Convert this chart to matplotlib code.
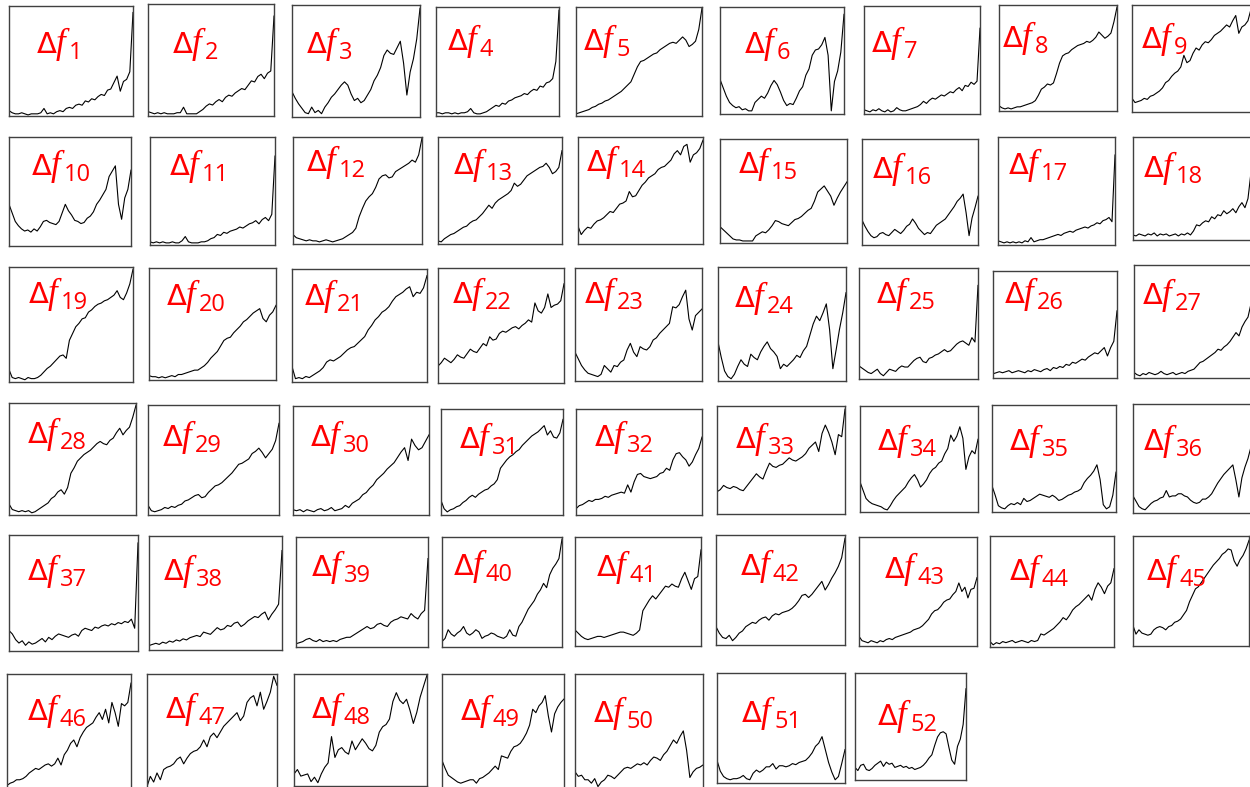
import matplotlib
matplotlib.use("Agg")
import matplotlib.pyplot as plt
import numpy as np

# trace values, percent of panel height (evenly spaced in x)
DF1 = [4, 2, 1, 1, 2, 1, 0, 1, 1, 1, 2, 6, 1, 2, 1, 3, 4, 3, 6, 7, 6, 9, 10, 9, 13, 12, 15, 14, 17, 19, 18, 23, 24, 30, 36, 22, 31, 33, 40, 95]
DF2 = [3, 2, 1, 2, 1, 2, 1, 1, 1, 2, 2, 7, 1, 1, 1, 1, 3, 5, 8, 10, 9, 12, 14, 12, 16, 18, 17, 20, 22, 24, 23, 27, 31, 30, 35, 37, 33, 38, 40, 90]
DF3 = [22, 16, 11, 7, 3, 2, 8, 3, 5, 2, 8, 12, 17, 20, 24, 28, 31, 28, 20, 14, 16, 12, 14, 19, 24, 32, 37, 44, 55, 60, 57, 56, 62, 68, 48, 19, 40, 52, 70, 98]
DF4 = [2, 2, 1, 2, 2, 1, 2, 1, 2, 2, 3, 6, 2, 1, 1, 2, 3, 5, 7, 9, 8, 11, 10, 13, 14, 16, 17, 18, 20, 19, 22, 24, 23, 27, 26, 30, 31, 34, 50, 98]
DF5 = [1, 2, 3, 4, 5, 7, 8, 10, 11, 13, 14, 16, 18, 20, 22, 25, 28, 31, 38, 45, 50, 51, 53, 55, 57, 58, 61, 63, 65, 67, 68, 67, 70, 73, 70, 64, 66, 69, 80, 100]
DF6 = [32, 24, 16, 10, 7, 5, 6, 3, 4, 2, 2, 10, 13, 16, 14, 19, 26, 31, 27, 20, 12, 7, 9, 8, 14, 21, 25, 36, 42, 55, 60, 61, 65, 72, 55, 2, 30, 40, 58, 94]
DF7 = [3, 2, 1, 3, 2, 4, 2, 1, 3, 1, 2, 5, 3, 2, 2, 3, 4, 5, 6, 8, 11, 9, 12, 14, 13, 15, 17, 16, 18, 20, 19, 22, 24, 21, 26, 25, 29, 27, 30, 80]
DF8 = [4, 2, 1, 2, 1, 2, 3, 3, 4, 5, 6, 7, 9, 14, 20, 22, 25, 24, 26, 35, 45, 52, 54, 55, 58, 60, 62, 63, 64, 66, 65, 67, 70, 75, 72, 69, 71, 74, 85, 99]
DF9 = [12, 8, 9, 10, 12, 11, 14, 15, 17, 19, 22, 27, 29, 33, 36, 38, 42, 53, 46, 48, 55, 60, 58, 63, 66, 65, 68, 72, 74, 76, 79, 82, 80, 86, 91, 74, 80, 82, 86, 97]
DF10 = [38, 30, 22, 18, 15, 13, 14, 12, 15, 13, 17, 22, 23, 21, 20, 19, 22, 30, 38, 32, 28, 23, 22, 20, 21, 25, 27, 31, 38, 42, 47, 52, 64, 69, 74, 38, 24, 44, 52, 70]
DF11 = [2, 1, 2, 1, 2, 1, 1, 2, 1, 1, 3, 7, 2, 1, 1, 1, 2, 2, 3, 5, 6, 9, 8, 11, 10, 12, 13, 14, 16, 15, 17, 19, 20, 22, 19, 23, 25, 22, 28, 83]
DF12 = [8, 5, 4, 3, 2, 3, 2, 2, 1, 2, 3, 2, 1, 2, 3, 4, 6, 8, 10, 14, 25, 33, 40, 44, 47, 53, 61, 64, 65, 62, 63, 68, 70, 72, 74, 76, 79, 77, 84, 100]
DF13 = [2, 1, 4, 6, 8, 9, 11, 13, 15, 16, 19, 21, 22, 25, 28, 32, 36, 33, 38, 41, 43, 45, 47, 50, 57, 54, 56, 60, 64, 66, 68, 70, 72, 73, 76, 72, 66, 68, 72, 88]
DF14 = [16, 8, 12, 15, 14, 18, 21, 22, 24, 27, 30, 29, 33, 37, 38, 40, 49, 44, 45, 50, 55, 58, 62, 64, 66, 70, 72, 73, 76, 79, 85, 88, 84, 92, 94, 77, 84, 86, 90, 98]
DF15 = [15, 12, 9, 6, 3, 2, 2, 1, 1, 1, 1, 6, 8, 10, 9, 12, 16, 21, 20, 18, 17, 16, 19, 22, 23, 25, 28, 31, 33, 40, 49, 52, 55, 50, 45, 36, 43, 49, 54, 59]
DF16 = [23, 17, 12, 8, 6, 7, 10, 11, 9, 8, 11, 14, 12, 10, 13, 17, 19, 24, 20, 15, 12, 9, 11, 10, 14, 18, 20, 22, 24, 28, 32, 36, 41, 44, 48, 30, 8, 25, 35, 46]
DF17 = [3, 2, 1, 2, 1, 2, 1, 2, 1, 3, 2, 6, 2, 3, 4, 4, 5, 6, 7, 8, 9, 8, 10, 11, 12, 11, 13, 14, 15, 16, 15, 17, 18, 20, 19, 22, 23, 25, 21, 84]
DF18 = [4, 3, 5, 4, 3, 5, 4, 6, 3, 5, 4, 5, 3, 4, 5, 3, 5, 4, 6, 4, 8, 14, 13, 16, 18, 17, 22, 20, 24, 23, 28, 25, 27, 30, 26, 32, 36, 31, 40, 66]
DF19 = [10, 3, 2, 3, 2, 1, 3, 2, 2, 3, 5, 8, 11, 13, 16, 19, 22, 23, 20, 36, 42, 48, 51, 55, 56, 61, 63, 66, 68, 69, 71, 72, 74, 76, 80, 74, 72, 78, 86, 99]
DF20 = [3, 2, 2, 1, 2, 1, 2, 3, 2, 4, 4, 5, 6, 7, 8, 8, 10, 12, 15, 19, 22, 25, 30, 35, 37, 38, 42, 45, 48, 52, 54, 57, 60, 62, 64, 55, 52, 58, 61, 67]
DF21 = [13, 2, 3, 2, 4, 3, 5, 7, 9, 12, 17, 19, 18, 20, 22, 25, 28, 30, 31, 34, 37, 40, 46, 50, 55, 58, 62, 64, 67, 72, 76, 78, 80, 83, 85, 76, 80, 79, 84, 95]
DF22 = [14, 17, 21, 19, 17, 20, 24, 22, 21, 25, 29, 27, 26, 30, 34, 32, 40, 37, 38, 43, 45, 44, 46, 48, 49, 47, 50, 52, 55, 53, 70, 63, 61, 66, 78, 66, 68, 69, 72, 87]
DF23 = [25, 19, 13, 9, 6, 5, 4, 3, 5, 13, 10, 7, 13, 12, 16, 18, 27, 33, 25, 21, 30, 28, 27, 30, 36, 38, 42, 45, 48, 51, 66, 65, 68, 75, 81, 55, 45, 58, 61, 64]
DF24 = [34, 20, 8, 3, 1, 5, 12, 18, 14, 12, 23, 20, 18, 25, 30, 34, 28, 25, 21, 10, 14, 12, 15, 18, 22, 20, 26, 30, 40, 50, 57, 53, 60, 68, 45, 10, 27, 45, 60, 78]
DF25 = [11, 9, 7, 5, 4, 6, 8, 4, 2, 5, 8, 7, 6, 9, 11, 10, 10, 13, 16, 18, 19, 15, 14, 18, 19, 21, 22, 24, 26, 24, 25, 28, 31, 33, 34, 32, 30, 37, 33, 85]
DF26 = [3, 4, 5, 4, 5, 6, 4, 5, 6, 5, 4, 6, 5, 7, 6, 5, 7, 8, 6, 9, 8, 10, 9, 12, 11, 14, 13, 15, 17, 16, 19, 21, 23, 22, 25, 28, 20, 28, 34, 63]
DF27 = [4, 2, 1, 3, 2, 4, 3, 2, 3, 5, 3, 2, 3, 4, 2, 3, 4, 3, 5, 6, 7, 10, 13, 14, 16, 18, 20, 22, 25, 24, 27, 29, 32, 36, 40, 37, 45, 50, 54, 66]
DF28 = [9, 4, 3, 2, 3, 2, 3, 1, 2, 4, 6, 8, 10, 14, 16, 20, 22, 18, 24, 37, 42, 48, 51, 54, 56, 58, 61, 64, 66, 64, 63, 67, 69, 74, 78, 72, 76, 79, 88, 99]
DF29 = [8, 3, 2, 3, 4, 6, 5, 7, 6, 8, 9, 12, 13, 15, 17, 18, 15, 16, 20, 23, 26, 27, 29, 32, 35, 38, 42, 46, 47, 49, 51, 56, 58, 61, 57, 52, 56, 60, 68, 84]
DF30 = [4, 3, 4, 2, 4, 3, 2, 4, 5, 3, 4, 6, 3, 4, 5, 8, 6, 10, 12, 14, 18, 20, 24, 27, 32, 35, 38, 42, 45, 48, 53, 58, 62, 50, 70, 64, 60, 62, 68, 74]
DF31 = [13, 5, 2, 4, 5, 7, 8, 11, 13, 16, 18, 16, 19, 21, 23, 24, 27, 29, 33, 44, 48, 52, 55, 57, 60, 62, 66, 69, 72, 75, 77, 79, 82, 85, 76, 80, 74, 73, 78, 91]
DF32 = [5, 8, 9, 11, 13, 12, 14, 14, 15, 17, 16, 18, 19, 20, 21, 20, 28, 21, 31, 38, 39, 36, 35, 34, 35, 36, 39, 40, 44, 42, 52, 58, 59, 55, 52, 46, 50, 57, 63, 74]
DF33 = [20, 22, 26, 24, 23, 25, 24, 22, 21, 25, 29, 33, 37, 34, 32, 40, 47, 44, 43, 45, 46, 49, 52, 50, 49, 51, 53, 56, 61, 64, 67, 58, 75, 83, 76, 67, 55, 74, 72, 98]
DF34 = [28, 20, 12, 9, 7, 6, 5, 4, 2, 1, 5, 10, 14, 17, 20, 23, 28, 32, 35, 30, 23, 26, 30, 36, 40, 42, 46, 48, 55, 60, 73, 67, 72, 81, 70, 40, 52, 58, 55, 69]
DF35 = [24, 15, 5, 3, 2, 5, 7, 6, 8, 6, 12, 9, 10, 12, 14, 16, 15, 14, 13, 15, 13, 10, 11, 13, 15, 16, 18, 19, 21, 27, 31, 34, 38, 44, 30, 6, 2, 4, 15, 37]
DF36 = [15, 10, 5, 3, 2, 5, 8, 10, 11, 13, 14, 20, 14, 15, 15, 17, 17, 15, 14, 11, 9, 8, 9, 12, 12, 14, 17, 22, 27, 31, 35, 38, 41, 44, 30, 14, 32, 42, 50, 61]
DF37 = [17, 14, 9, 6, 8, 4, 7, 5, 6, 8, 10, 7, 11, 9, 12, 14, 13, 12, 11, 13, 14, 12, 17, 19, 18, 17, 20, 19, 21, 22, 21, 23, 22, 24, 23, 25, 24, 27, 19, 94]
DF38 = [3, 4, 5, 4, 6, 5, 7, 6, 8, 7, 9, 8, 10, 11, 12, 11, 15, 14, 13, 16, 19, 17, 18, 21, 20, 23, 24, 20, 22, 25, 27, 29, 28, 31, 33, 26, 31, 35, 40, 88]
DF39 = [2, 3, 4, 6, 7, 5, 4, 6, 4, 5, 4, 5, 4, 6, 7, 8, 8, 10, 12, 14, 16, 18, 16, 17, 20, 21, 19, 18, 22, 24, 25, 27, 26, 25, 30, 27, 25, 30, 33, 81]
DF40 = [4, 7, 15, 11, 9, 12, 14, 18, 12, 10, 12, 15, 13, 7, 9, 10, 12, 11, 9, 8, 7, 9, 15, 10, 9, 18, 22, 28, 34, 38, 42, 48, 52, 58, 54, 66, 72, 76, 81, 99]
DF41 = [14, 11, 8, 6, 5, 6, 7, 8, 8, 7, 8, 9, 10, 11, 12, 12, 11, 10, 9, 11, 14, 32, 37, 42, 46, 43, 47, 51, 55, 54, 57, 55, 54, 62, 68, 60, 52, 62, 64, 89]
DF42 = [16, 10, 6, 5, 8, 3, 6, 10, 12, 16, 18, 20, 19, 22, 24, 25, 22, 26, 28, 27, 29, 30, 31, 33, 36, 40, 45, 46, 43, 46, 50, 54, 58, 50, 55, 61, 66, 72, 80, 98]
DF43 = [8, 4, 3, 2, 4, 3, 2, 4, 3, 5, 6, 5, 7, 8, 9, 10, 11, 12, 14, 15, 16, 18, 21, 24, 29, 32, 33, 36, 40, 42, 43, 47, 50, 58, 50, 54, 44, 52, 53, 63]
DF44 = [4, 1, 3, 2, 4, 3, 4, 5, 3, 4, 5, 4, 3, 5, 4, 5, 11, 10, 12, 14, 16, 19, 22, 26, 24, 28, 33, 36, 38, 41, 44, 47, 42, 52, 58, 54, 48, 55, 58, 71]
DF45 = [18, 10, 14, 11, 10, 9, 10, 14, 16, 17, 16, 14, 17, 18, 21, 22, 24, 28, 32, 40, 46, 52, 54, 58, 62, 66, 70, 74, 77, 80, 84, 86, 89, 88, 78, 73, 79, 83, 89, 97]
DF46 = [3, 5, 6, 8, 8, 9, 11, 14, 16, 18, 17, 19, 21, 22, 20, 22, 27, 21, 30, 34, 40, 43, 37, 45, 50, 54, 56, 58, 63, 67, 61, 70, 58, 76, 67, 55, 75, 73, 76, 93]
DF47 = [2, 11, 6, 14, 8, 17, 19, 20, 22, 26, 28, 22, 27, 31, 33, 34, 37, 43, 37, 46, 49, 45, 50, 55, 58, 61, 64, 67, 60, 64, 76, 80, 82, 73, 85, 70, 77, 85, 99, 91]
DF48 = [10, 14, 8, 9, 10, 3, 7, 2, 10, 16, 20, 44, 25, 32, 34, 30, 28, 40, 32, 37, 42, 38, 33, 31, 36, 48, 53, 55, 60, 76, 84, 77, 74, 78, 68, 56, 66, 80, 90, 100]
DF49 = [25, 18, 12, 10, 8, 6, 5, 6, 7, 8, 8, 5, 9, 10, 12, 14, 17, 20, 17, 29, 28, 27, 33, 37, 38, 40, 44, 49, 56, 70, 67, 73, 76, 82, 64, 50, 66, 72, 76, 79]
DF50 = [15, 11, 12, 8, 8, 5, 9, 2, 6, 8, 12, 11, 9, 12, 15, 18, 19, 18, 20, 22, 21, 23, 21, 25, 28, 27, 25, 30, 33, 38, 43, 40, 46, 51, 34, 10, 15, 18, 19, 21]
DF51 = [20, 10, 5, 3, 2, 3, 3, 4, 6, 3, 2, 8, 11, 9, 11, 14, 14, 17, 12, 15, 15, 14, 15, 17, 16, 18, 19, 20, 23, 27, 33, 36, 42, 30, 18, 9, 2, 5, 17, 30]
DF52 = [11, 8, 13, 14, 9, 8, 10, 13, 15, 17, 12, 16, 14, 15, 11, 12, 13, 11, 12, 10, 11, 9, 10, 11, 13, 16, 20, 23, 32, 40, 44, 45, 43, 30, 18, 14, 31, 38, 52, 86]

TRACES = [DF1, DF2, DF3, DF4, DF5, DF6, DF7, DF8, DF9, DF10, DF11, DF12, DF13,
          DF14, DF15, DF16, DF17, DF18, DF19, DF20, DF21, DF22, DF23, DF24, DF25, DF26,
          DF27, DF28, DF29, DF30, DF31, DF32, DF33, DF34, DF35, DF36, DF37, DF38, DF39,
          DF40, DF41, DF42, DF43, DF44, DF45, DF46, DF47, DF48, DF49, DF50, DF51, DF52]
SUBSCRIPTS = [str(i) for i in range(1, len(TRACES) + 1)]

# panel boxes in pixels: left, top, right, bottom
BOXES = [
    (9, 6, 133, 116), (148, 4, 274, 116), (292, 5, 420, 117), (436, 7, 559, 116),
    (576, 7, 702, 116), (720, 7, 844, 114), (864, 6, 980, 114), (999, 5, 1117, 111),
    (1132, 5, 1251, 112),
    (9, 137, 131, 246), (150, 137, 275, 245), (293, 137, 422, 244), (438, 137, 562, 244),
    (578, 137, 703, 244), (720, 139, 847, 243), (862, 139, 978, 245), (998, 137, 1115, 245),
    (1133, 137, 1251, 240),
    (9, 267, 133, 382), (149, 268, 276, 380), (292, 269, 427, 382), (438, 268, 564, 383),
    (575, 268, 702, 381), (718, 267, 846, 381), (859, 268, 978, 379), (993, 271, 1117, 378),
    (1134, 265, 1251, 378),
    (9, 403, 136, 515), (148, 405, 279, 515), (293, 406, 429, 515), (441, 409, 563, 515),
    (576, 409, 702, 515), (717, 406, 845, 514), (860, 406, 978, 512), (992, 405, 1116, 512),
    (1133, 404, 1251, 513),
    (9, 535, 138, 651), (149, 536, 282, 650), (296, 537, 428, 647), (442, 537, 562, 647),
    (575, 537, 701, 646), (716, 535, 845, 645), (859, 537, 977, 646), (990, 536, 1114, 647),
    (1133, 536, 1249, 646),
    (7, 674, 131, 790), (147, 674, 277, 790), (294, 674, 427, 786), (442, 674, 564, 790),
    (575, 674, 703, 790), (717, 673, 845, 783), (855, 673, 966, 780),
]

# label anchor in pixels: left edge of the delta, its vertical middle
LABEL_POS = [
    (37, 43), (173, 43), (307, 43), (448, 40), (584, 40), (745, 43), (872, 42), (1003, 37), (1142, 38),
    (32, 165), (170, 165), (307, 161), (454, 164), (587, 161), (739, 163), (873, 168), (1009, 164), (1144, 167),
    (29, 293), (167, 295), (305, 295), (453, 293), (585, 293), (735, 297), (877, 293), (1005, 293), (1143, 294),
    (28, 433), (163, 436), (311, 436), (460, 438), (595, 436), (736, 438), (878, 440), (1010, 440), (1144, 440),
    (28, 570), (164, 570), (312, 566), (454, 565), (597, 566), (741, 565), (885, 568), (1010, 570), (1147, 570),
    (28, 710), (166, 708), (312, 708), (461, 710), (594, 712), (742, 712), (878, 715),
]

W, H = 1250, 787
RED = "#ff0000"

fig = plt.figure(figsize=(W / 100, H / 100), dpi=100)

for vals, box in zip(TRACES, BOXES):
    left, top, right, bottom = box
    ax = fig.add_axes([left / W, 1 - bottom / H, (right - left) / W, (bottom - top) / H])
    x = np.linspace(0, 1, len(vals))
    ax.plot(x, vals, color="black", lw=0.8)
    ax.set_xlim(0, 1)
    ax.set_ylim(-1, 101)
    ax.set_xticks([])
    ax.set_yticks([])
    for sp in ax.spines.values():
        sp.set_color("#404040")
        sp.set_linewidth(1.0)

# labels: sans delta, serif italic f, sans subscript digits
for sub, (lx, ly) in zip(SUBSCRIPTS, LABEL_POS):
    base = 1 - (ly + 10) / H
    fig.text(lx / W, base, "\u0394", color=RED, fontsize=21, family="DejaVu Sans",
             ha="left", va="baseline")
    fig.text((lx + 19) / W, base, "f", color=RED, fontsize=25, family="Liberation Serif",
             style="italic", ha="left", va="baseline")
    fig.text((lx + 32) / W, base - 6 / H, sub, color=RED, fontsize=17, family="Open Sans",
             ha="left", va="baseline")

fig.savefig("out.png", dpi=100)
